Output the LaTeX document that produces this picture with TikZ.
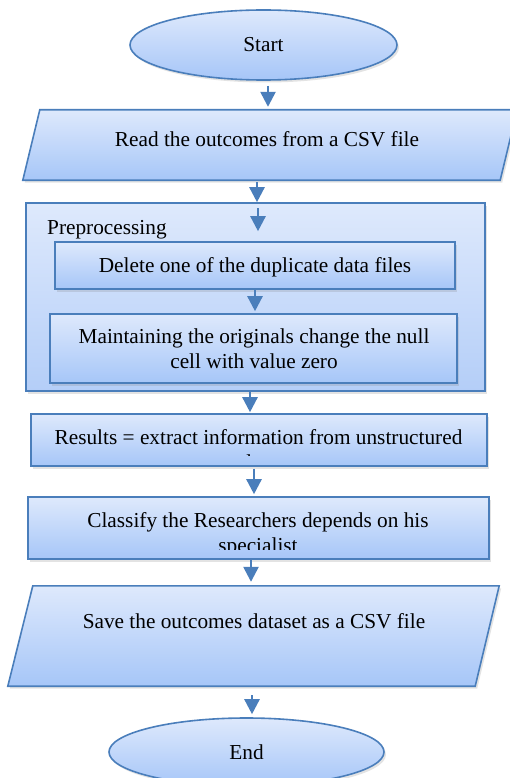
\documentclass[tikz,border=0pt]{standalone}
\usepackage{fontspec}
\setmainfont{Liberation Serif}
\usetikzlibrary{shapes.geometric,arrows.meta,shadows}
\definecolor{edge}{RGB}{74,126,187}
\definecolor{topc}{RGB}{222,233,252}
\definecolor{botc}{RGB}{166,198,248}
\definecolor{botp}{RGB}{180,206,248}
\tikzset{
  shapefill/.style={draw=edge, line width=1.6pt, top color=topc, bottom color=botc,
    drop shadow={shadow xshift=2pt, shadow yshift=-2.5pt, opacity=0.22}},
  frame/.style={shapefill, rectangle, inner sep=0pt},
  oval/.style={shapefill, ellipse, inner sep=0pt, font=\fontsize{21.3}{25}\selectfont},
  ghost/.style={rectangle, inner sep=0pt},
  plain/.style={inner sep=0pt, anchor=base, font=\fontsize{21.3}{25}\selectfont},
  arr/.style={draw=edge, line width=2.5pt, -{Triangle[width=15pt,length=15pt]}},
}
\begin{document}
\begin{tikzpicture}[x=1pt,y=-1pt]
\useasboundingbox (0,0) rectangle (510,778);
\fill[white] (0,0) rectangle (510,778);

% Start
\node[oval, minimum width=267pt, minimum height=70pt] (start) at (263.5,45) {Start};

% Read parallelogram
\node[ghost, minimum width=494pt, minimum height=70pt] (read) at (270,145) {};
\draw[shapefill] ([xshift=17pt]read.north west) -- (read.north east)
  -- ([xshift=-17pt]read.south east) -- (read.south west) -- cycle;
\node[plain] (readtxt) at (267,147) {Read the outcomes from a CSV file};

% Preprocessing container
\node[frame, bottom color=botp, minimum width=459pt, minimum height=188pt] (prep) at (255.5,297) {};
\node[plain, anchor=base west] (preptxt) at (47,234) {Preprocessing};

% Delete
\node[frame, minimum width=400pt, minimum height=47pt] (del) at (255,265.5) {};
\node[plain] (deltxt) at (255,272) {Delete one of the duplicate data files};

% Maintaining
\node[frame, minimum width=407pt, minimum height=69pt] (mai) at (253.5,348.5) {};
\node[plain] (maitxt) at (254,343) {\parbox[t]{400pt}{\centering Maintaining the originals change the null\\cell with value zero}};

% Results
\node[frame, minimum width=456pt, minimum height=52pt] (res) at (259,440) {};
\begin{scope}
  \clip (res.north west) rectangle ([yshift=11pt]res.south east);
  \node[plain] (restxt) at (258.5,444) {\parbox[t]{450pt}{\centering Results = extract information from unstructured\\data}};
\end{scope}

% Classify
\node[frame, minimum width=461pt, minimum height=62pt] (cls) at (258.5,528) {};
\begin{scope}
  \clip (cls.north west) rectangle ([yshift=10pt]cls.south east);
  \node[plain] (clstxt) at (258,527) {\parbox[t]{450pt}{\centering Classify the Researchers depends on his\\specialist}};
\end{scope}

% Save parallelogram
\node[ghost, minimum width=491pt, minimum height=100pt] (save) at (253.5,636) {};
\draw[shapefill] ([xshift=25pt]save.north west) -- (save.north east)
  -- ([xshift=-24pt]save.south east) -- (save.south west) -- cycle;
\node[plain] (savetxt) at (254,628) {Save the outcomes dataset as a CSV file};

% End
\node[oval, minimum width=275pt, minimum height=68pt] (end) at (246.5,752) {End};

% Connectors
\draw[arr, shorten <=5pt, shorten >=3pt] ([xshift=4.5pt]start.south) -- ([xshift=4.5pt]start.south |- read.north);
\draw[arr, shorten <=2pt] ([xshift=-13pt]read.south) -- ([xshift=-13pt]read.south |- prep.north);
\draw[arr, shorten <=6pt, shorten >=10pt] ([xshift=2.5pt]prep.north) -- ([xshift=2.5pt]prep.north |- del.north);
\draw[arr, shorten >=2pt] (del.south) -- (del.south |- mai.north);
\draw[arr, shorten >=1pt] ([xshift=-5.5pt]prep.south) -- ([xshift=-5.5pt]prep.south |- res.north);
\draw[arr, shorten <=2pt, shorten >=2pt] ([xshift=-5pt]res.south) -- ([xshift=-5pt]res.south |- cls.north);
\draw[arr, shorten >=4pt] ([xshift=-7.5pt]cls.south) -- ([xshift=-7.5pt]cls.south |- save.north);
\draw[arr, shorten <=9pt, shorten >=3pt] ([xshift=-1.5pt]save.south) -- ([xshift=-1.5pt]save.south |- end.north);
\end{tikzpicture}
\end{document}
